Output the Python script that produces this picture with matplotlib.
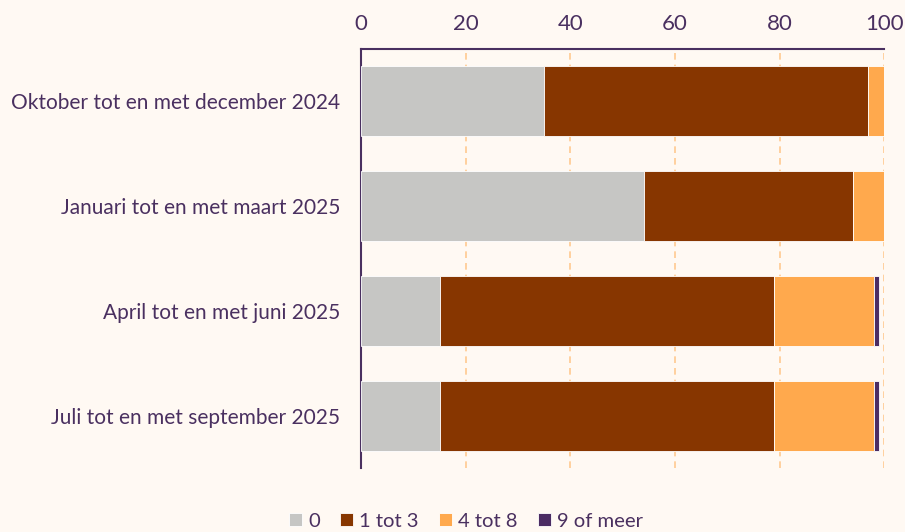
import matplotlib
matplotlib.use("Agg")
import matplotlib.pyplot as plt
import numpy as np

categories = ["Oktober tot en met december 2024", "Januari tot en met maart 2025",
              "April tot en met juni 2025", "Juli tot en met september 2025"]
series_names = ["0", "1 tot 3", "4 tot 8", "9 of meer"]
v0 = [35, 54, 15, 15]
v1 = [62, 40, 64, 64]
v2 = [3, 6, 19, 19]
v3 = [0, 0, 1, 1]
colors = ["#c6c6c4", "#873600", "#ffa94d", "#4b2c63"]
xticks = [0, 20, 40, 60, 80, 100]

bg = "#fff9f3"
txt = "#4a3060"
plt.rcParams['font.family'] = ['Lato', 'DejaVu Sans']

fig = plt.figure(figsize=(9.05, 5.32), dpi=100, facecolor=bg)
ax = fig.add_axes([0.399, 0.120, 0.578, 0.788], facecolor=bg)

y = np.arange(len(categories))
left = np.zeros(len(categories))
for vals, name, c in zip([v0, v1, v2, v3], series_names, colors):
    ax.barh(y, vals, left=left, height=0.667, color=c, label=name,
            edgecolor="#ffffff", linewidth=0.6, zorder=3)
    left += np.array(vals)

ax.set_xlim(0, 100)
ax.set_ylim(3.5, -0.5)
ax.set_yticks(y)
ax.set_yticklabels(categories, fontsize=15.0, color=txt)
ax.set_xticks(xticks)
ax.set_xticklabels([str(t) for t in xticks], fontsize=16, color=txt)
ax.xaxis.tick_top()
ax.tick_params(axis='y', length=0, pad=15)
ax.tick_params(axis='x', length=0, pad=10.5)
ax.grid(axis='x', color="#ffc990", linestyle=(0, (4, 3)), linewidth=1.2, zorder=0)
for s in ['right', 'bottom']:
    ax.spines[s].set_visible(False)
for s in ['top', 'left']:
    ax.spines[s].set_color(txt)
    ax.spines[s].set_linewidth(1.5)

leg = fig.legend(loc='lower center', bbox_to_anchor=(0.515, -0.03), ncol=4, frameon=False,
                 fontsize=14.6, handlelength=0.65, handleheight=0.65, handletextpad=0.3,
                 columnspacing=1.0, labelcolor=txt)
fig.savefig("out.png", dpi=100, facecolor=bg)
